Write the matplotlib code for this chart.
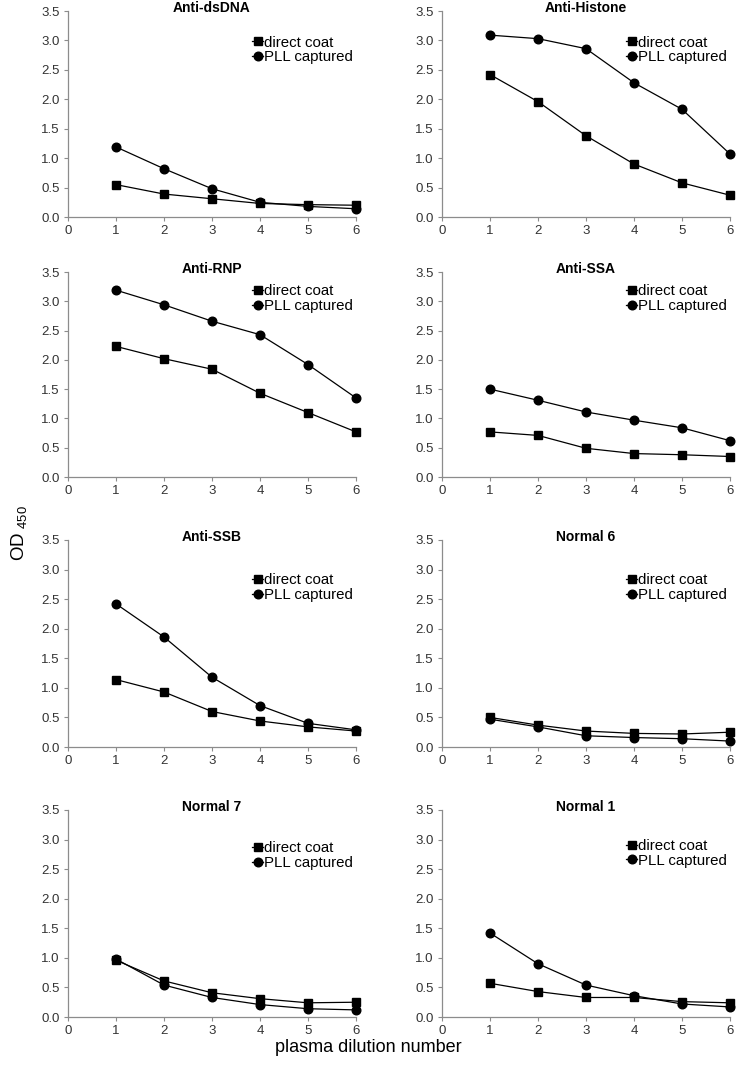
import matplotlib
matplotlib.use("Agg")
import matplotlib.pyplot as plt

plt.rcParams['font.family'] = ['Liberation Sans', 'DejaVu Sans']

dilution = [1, 2, 3, 4, 5, 6]
titles = ["Anti-dsDNA", "Anti-Histone", "Anti-RNP", "Anti-SSA",
          "Anti-SSB", "Normal 6", "Normal 7", "Normal 1"]

direct_dsdna = [0.55, 0.39, 0.31, 0.23, 0.21, 0.20]
pll_dsdna = [1.19, 0.82, 0.48, 0.25, 0.18, 0.14]
direct_histone = [2.42, 1.96, 1.38, 0.90, 0.58, 0.37]
pll_histone = [3.09, 3.03, 2.86, 2.28, 1.83, 1.07]
direct_rnp = [2.23, 2.02, 1.84, 1.43, 1.10, 0.77]
pll_rnp = [3.19, 2.94, 2.66, 2.43, 1.92, 1.35]
direct_ssa = [0.77, 0.71, 0.49, 0.40, 0.38, 0.35]
pll_ssa = [1.50, 1.31, 1.11, 0.97, 0.84, 0.62]
direct_ssb = [1.14, 0.93, 0.60, 0.44, 0.34, 0.27]
pll_ssb = [2.42, 1.86, 1.18, 0.70, 0.40, 0.29]
direct_n6 = [0.50, 0.37, 0.27, 0.23, 0.22, 0.25]
pll_n6 = [0.47, 0.34, 0.19, 0.16, 0.14, 0.10]
direct_n7 = [0.96, 0.61, 0.41, 0.31, 0.24, 0.25]
pll_n7 = [0.98, 0.54, 0.33, 0.21, 0.14, 0.12]
direct_n1 = [0.57, 0.43, 0.33, 0.33, 0.26, 0.24]
pll_n1 = [1.42, 0.90, 0.54, 0.36, 0.22, 0.17]

direct_all = [direct_dsdna, direct_histone, direct_rnp, direct_ssa,
              direct_ssb, direct_n6, direct_n7, direct_n1]
pll_all = [pll_dsdna, pll_histone, pll_rnp, pll_ssa,
           pll_ssb, pll_n6, pll_n7, pll_n1]

series_labels = ["direct coat", "PLL captured"]
xticks = [0, 1, 2, 3, 4, 5, 6]
yticks = [0.0, 0.5, 1.0, 1.5, 2.0, 2.5, 3.0, 3.5]

W, H = 737, 1066
fig = plt.figure(figsize=(W / 100, H / 100), dpi=100)

col_left = [68, 442]
ax_w = 288
row_top = [11, 272, 540, 810]
row_bot = [217, 477, 747, 1017]
legend_y = [0.88, 0.88, 0.94, 0.94, 0.84, 0.84, 0.85, 0.86]

gray = '#8c8c8c'
for i, title in enumerate(titles):
    r, c = divmod(i, 2)
    x0 = col_left[c]
    top, bot = row_top[r], row_bot[r]
    ax = fig.add_axes([x0 / W, 1 - bot / H, ax_w / W, (bot - top) / H])
    ax.plot(dilution, direct_all[i], color='black', lw=0.9, marker='s',
            ms=5.2, label=series_labels[0], clip_on=False, zorder=3)
    ax.plot(dilution, pll_all[i], color='black', lw=0.9, marker='o',
            ms=6.2, label=series_labels[1], clip_on=False, zorder=3)
    ax.set_xlim(0, 6)
    ax.set_ylim(0, 3.5)
    ax.set_xticks(xticks)
    ax.set_yticks(yticks)
    ax.set_yticklabels([f"{v:.1f}" for v in yticks])
    for s in ['top', 'right']:
        ax.spines[s].set_visible(False)
    for s in ['left', 'bottom']:
        ax.spines[s].set_color(gray)
        ax.spines[s].set_linewidth(0.9)
    ax.tick_params(axis='both', direction='out', length=3, width=0.8,
                   color=gray, labelsize=9.5, labelcolor='#333333', pad=3)
    ax.set_title(title, fontsize=10, fontweight='bold', pad=-1, y=1.0)
    ax.legend(loc='upper left', bbox_to_anchor=(0.64, legend_y[i]),
              frameon=False, fontsize=10.8, handlelength=0.7,
              handletextpad=0.1, labelspacing=0.05, borderpad=0,
              borderaxespad=0)

fig.text(20 / W, 1 - 533 / H, r"OD$_{\ \mathregular{450}}$", rotation=90,
         ha='center', va='center', fontsize=13.5)
fig.text(368 / W, 1 - 1047 / H, "plasma dilution number",
         ha='center', va='center', fontsize=13)

fig.savefig("out.png", dpi=100)
